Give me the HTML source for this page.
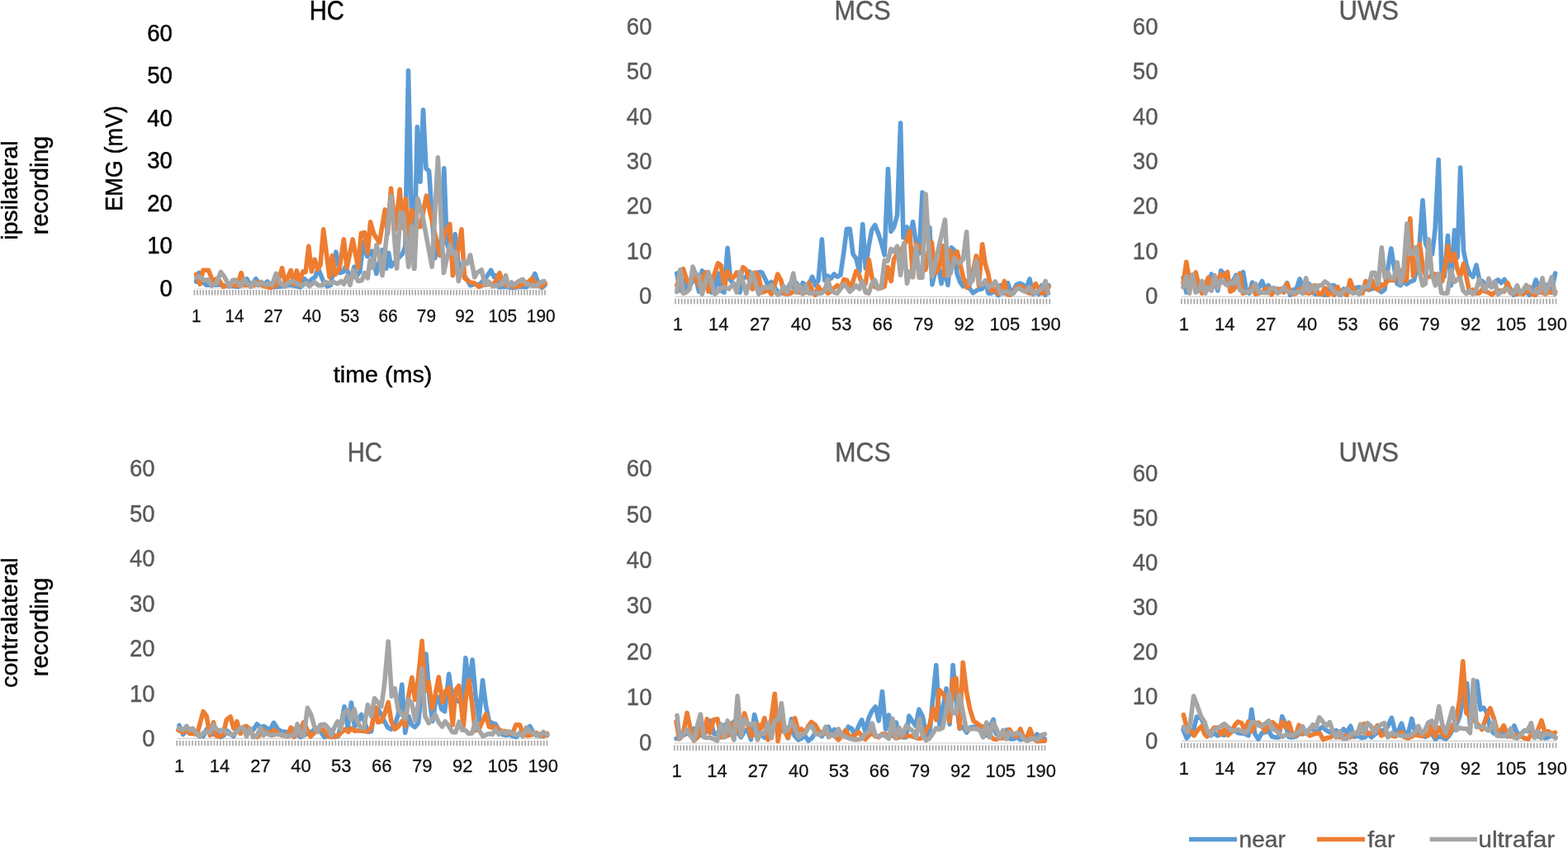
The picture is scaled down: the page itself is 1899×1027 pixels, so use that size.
<!DOCTYPE html>
<html lang="en">
<head>
<meta charset="utf-8">
<title>EMG recordings: HC, MCS, UWS</title>
<style>
html,body{margin:0;padding:0;background:#fff;}
body{width:1899px;height:1027px;overflow:hidden;}
svg{display:block;}
text{font-family:"Liberation Sans",sans-serif;font-size:100px;stroke-linejoin:round;}
</style>
</head>
<body>
<svg width="1899" height="1027" viewBox="0 0 1899 1027">
<rect width="1899" height="1027" fill="#ffffff"/>
<g id="plots">
<line x1="235.50" y1="349.50" x2="660.00" y2="349.50" stroke="#E0E0E0" stroke-width="1"/>
<path d="M235.50 351.00V357.60M239.07 351.00V357.60M242.63 351.00V357.60M246.20 351.00V357.60M249.77 351.00V357.60M253.34 351.00V357.60M256.90 351.00V357.60M260.47 351.00V357.60M264.04 351.00V357.60M267.61 351.00V357.60M271.17 351.00V357.60M274.74 351.00V357.60M278.31 351.00V357.60M281.87 351.00V357.60M285.44 351.00V357.60M289.01 351.00V357.60M292.58 351.00V357.60M296.14 351.00V357.60M299.71 351.00V357.60M303.28 351.00V357.60M306.84 351.00V357.60M310.41 351.00V357.60M313.98 351.00V357.60M317.55 351.00V357.60M321.11 351.00V357.60M324.68 351.00V357.60M328.25 351.00V357.60M331.82 351.00V357.60M335.38 351.00V357.60M338.95 351.00V357.60M342.52 351.00V357.60M346.08 351.00V357.60M349.65 351.00V357.60M353.22 351.00V357.60M356.79 351.00V357.60M360.35 351.00V357.60M363.92 351.00V357.60M367.49 351.00V357.60M371.05 351.00V357.60M374.62 351.00V357.60M378.19 351.00V357.60M381.76 351.00V357.60M385.32 351.00V357.60M388.89 351.00V357.60M392.46 351.00V357.60M396.03 351.00V357.60M399.59 351.00V357.60M403.16 351.00V357.60M406.73 351.00V357.60M410.29 351.00V357.60M413.86 351.00V357.60M417.43 351.00V357.60M421.00 351.00V357.60M424.56 351.00V357.60M428.13 351.00V357.60M431.70 351.00V357.60M435.26 351.00V357.60M438.83 351.00V357.60M442.40 351.00V357.60M445.97 351.00V357.60M449.53 351.00V357.60M453.10 351.00V357.60M456.67 351.00V357.60M460.24 351.00V357.60M463.80 351.00V357.60M467.37 351.00V357.60M470.94 351.00V357.60M474.50 351.00V357.60M478.07 351.00V357.60M481.64 351.00V357.60M485.21 351.00V357.60M488.77 351.00V357.60M492.34 351.00V357.60M495.91 351.00V357.60M499.47 351.00V357.60M503.04 351.00V357.60M506.61 351.00V357.60M510.18 351.00V357.60M513.74 351.00V357.60M517.31 351.00V357.60M520.88 351.00V357.60M524.45 351.00V357.60M528.01 351.00V357.60M531.58 351.00V357.60M535.15 351.00V357.60M538.71 351.00V357.60M542.28 351.00V357.60M545.85 351.00V357.60M549.42 351.00V357.60M552.98 351.00V357.60M556.55 351.00V357.60M560.12 351.00V357.60M563.68 351.00V357.60M567.25 351.00V357.60M570.82 351.00V357.60M574.39 351.00V357.60M577.95 351.00V357.60M581.52 351.00V357.60M585.09 351.00V357.60M588.66 351.00V357.60M592.22 351.00V357.60M595.79 351.00V357.60M599.36 351.00V357.60M602.92 351.00V357.60M606.49 351.00V357.60M610.06 351.00V357.60M613.63 351.00V357.60M617.19 351.00V357.60M620.76 351.00V357.60M624.33 351.00V357.60M627.89 351.00V357.60M631.46 351.00V357.60M635.03 351.00V357.60M638.60 351.00V357.60M642.16 351.00V357.60M645.73 351.00V357.60M649.30 351.00V357.60M652.87 351.00V357.60M656.43 351.00V357.60M660.00 351.00V357.60" stroke="#A8A8A8" stroke-width="1.7" fill="none"/>
<polyline points="237.6,341.0 241.1,330.5 245.8,342.0 250.0,345.2 255.3,345.2 261.6,345.2 266.3,344.7 272.1,346.2 279.5,346.2 287.9,347.3 294.2,345.2 299.0,337.8 303.7,346.2 310.0,337.8 315.3,345.2 319.5,345.2 323.7,341.0 331.1,347.8 337.4,347.3 344.8,346.2 351.1,345.2 357.4,346.2 363.8,347.8 369.0,337.8 373.2,342.6 377.4,338.4 381.7,335.7 385.3,325.2 392.2,342.0 396.4,346.8 400.6,345.2 406.9,305.2 411.7,330.5 415.4,329.4 418.5,323.1 424.8,337.8 429.1,323.1 430.5,335.7 435.8,329.4 440.0,293.6 444.8,310.4 450.5,304.1 455.8,331.5 463.2,302.6 467.9,325.2 470.6,306.2 473.7,322.6 480.6,314.7 487.4,307.3 490.8,298.9 494.5,85.6 497.9,241.8 501.5,325.2 505.3,153.7 509.0,220.2 512.5,133.0 516.0,203.9 519.6,207.1 523.2,260.8 526.8,312.6 530.4,293.6 534.0,298.9 537.8,203.9 541.1,293.6 544.7,306.2 548.2,312.6 551.1,283.6 554.8,316.8 558.4,325.2 562.1,333.6 566.3,339.9 569.5,345.7 574.8,344.1 580.0,345.2 587.4,337.8 594.6,327.3 598.5,335.7 600.6,333.6 604.2,347.8 612.7,347.3 620.0,348.4 630.6,347.3 636.9,347.8 641.1,345.2 647.8,331.5 652.7,345.2 656.4,348.4 660.1,345.2" stroke="#5B9BD5" stroke-width="5.6" fill="none" stroke-linejoin="round" stroke-linecap="round"/>
<polyline points="237.6,332.4 242.1,344.1 245.8,327.3 252.6,327.3 257.6,340.5 261.6,337.8 265.8,339.9 270.6,347.5 276.3,345.2 282.7,345.2 287.4,346.2 292.1,330.5 296.1,345.7 301.6,345.2 307.9,345.7 313.2,341.5 318.5,346.2 327.9,348.4 335.3,345.2 341.6,324.7 345.6,343.1 352.2,327.3 355.9,344.7 359.3,327.8 362.9,341.0 366.9,328.9 370.1,329.4 373.8,298.3 377.4,328.9 381.1,314.1 384.8,326.2 388.0,321.0 391.7,277.8 399.0,335.7 402.2,309.9 405.9,332.6 411.1,325.2 416.4,289.9 420.1,324.7 427.2,289.9 430.5,307.3 433.7,324.1 437.4,282.5 441.6,281.5 445.3,306.2 448.6,268.9 452.6,283.1 459.5,293.6 466.3,253.9 469.5,283.1 473.5,228.1 479.0,277.8 484.2,229.2 487.9,275.9 491.4,240.8 495.0,292.9 498.5,254.5 509.0,274.6 516.4,237.1 532.7,309.4 539.0,282.0 544.8,271.5 548.4,333.6 551.6,321.0 559.0,277.8 562.6,336.8 569.5,342.0 574.8,343.1 580.0,347.3 585.3,345.2 593.7,344.1 599.0,343.1 605.1,330.5 609.5,344.1 614.8,346.2 625.3,347.3 631.6,345.2 638.0,343.1 644.3,337.3 649.5,344.1 654.8,347.3 660.1,343.1" stroke="#ED7D31" stroke-width="5.6" fill="none" stroke-linejoin="round" stroke-linecap="round"/>
<polyline points="237.6,335.7 242.1,335.2 246.8,339.4 252.6,338.9 256.3,346.2 261.6,343.6 267.4,329.4 272.1,335.7 277.9,347.1 281.6,339.4 284.8,338.9 291.6,346.2 295.5,338.4 299.5,343.1 303.7,347.1 307.4,341.5 312.7,345.7 316.6,341.5 321.6,345.2 325.3,343.6 329.5,345.2 334.3,331.5 339.5,343.1 344.8,347.1 349.0,342.6 355.3,340.5 360.6,344.1 365.9,346.2 370.6,342.6 374.8,346.8 380.6,341.5 385.9,345.7 390.1,345.7 394.3,341.5 398.5,343.1 403.8,341.5 409.0,343.6 413.2,340.5 416.4,344.1 420.4,334.7 424.0,345.2 427.8,327.3 433.7,340.5 438.4,339.4 441.6,330.5 445.3,336.8 448.2,314.7 451.6,324.1 456.0,296.8 459.5,308.3 463.0,333.6 473.7,237.1 480.6,325.2 484.8,257.6 488.5,258.7 494.8,323.1 498.5,274.1 501.9,325.2 505.8,240.2 511.6,260.8 523.2,323.1 530.4,190.8 537.4,330.5 544.8,296.8 548.2,307.3 551.6,305.2 555.3,340.5 562.1,316.8 565.8,319.4 569.5,308.9 574.8,335.7 577.4,330.5 583.2,326.8 587.4,345.2 591.6,341.0 596.9,346.8 604.2,345.2 608.5,344.1 612.5,333.6 615.8,346.8 619.5,342.0 622.7,345.2 627.4,341.0 633.2,338.4 636.9,343.1 644.3,346.2 650.6,346.2 654.3,342.0 659.0,340.5" stroke="#A5A5A5" stroke-width="5.6" fill="none" stroke-linejoin="round" stroke-linecap="round"/>
<line x1="818.00" y1="359.30" x2="1271.20" y2="359.30" stroke="#D0D0D0" stroke-width="1.2"/>
<path d="M818.00 361.80V368.20M821.81 361.80V368.20M825.62 361.80V368.20M829.43 361.80V368.20M833.23 361.80V368.20M837.04 361.80V368.20M840.85 361.80V368.20M844.66 361.80V368.20M848.47 361.80V368.20M852.28 361.80V368.20M856.08 361.80V368.20M859.89 361.80V368.20M863.70 361.80V368.20M867.51 361.80V368.20M871.32 361.80V368.20M875.13 361.80V368.20M878.93 361.80V368.20M882.74 361.80V368.20M886.55 361.80V368.20M890.36 361.80V368.20M894.17 361.80V368.20M897.98 361.80V368.20M901.78 361.80V368.20M905.59 361.80V368.20M909.40 361.80V368.20M913.21 361.80V368.20M917.02 361.80V368.20M920.83 361.80V368.20M924.64 361.80V368.20M928.44 361.80V368.20M932.25 361.80V368.20M936.06 361.80V368.20M939.87 361.80V368.20M943.68 361.80V368.20M947.49 361.80V368.20M951.29 361.80V368.20M955.10 361.80V368.20M958.91 361.80V368.20M962.72 361.80V368.20M966.53 361.80V368.20M970.34 361.80V368.20M974.14 361.80V368.20M977.95 361.80V368.20M981.76 361.80V368.20M985.57 361.80V368.20M989.38 361.80V368.20M993.19 361.80V368.20M996.99 361.80V368.20M1000.80 361.80V368.20M1004.61 361.80V368.20M1008.42 361.80V368.20M1012.23 361.80V368.20M1016.04 361.80V368.20M1019.85 361.80V368.20M1023.65 361.80V368.20M1027.46 361.80V368.20M1031.27 361.80V368.20M1035.08 361.80V368.20M1038.89 361.80V368.20M1042.70 361.80V368.20M1046.50 361.80V368.20M1050.31 361.80V368.20M1054.12 361.80V368.20M1057.93 361.80V368.20M1061.74 361.80V368.20M1065.55 361.80V368.20M1069.35 361.80V368.20M1073.16 361.80V368.20M1076.97 361.80V368.20M1080.78 361.80V368.20M1084.59 361.80V368.20M1088.40 361.80V368.20M1092.21 361.80V368.20M1096.01 361.80V368.20M1099.82 361.80V368.20M1103.63 361.80V368.20M1107.44 361.80V368.20M1111.25 361.80V368.20M1115.06 361.80V368.20M1118.86 361.80V368.20M1122.67 361.80V368.20M1126.48 361.80V368.20M1130.29 361.80V368.20M1134.10 361.80V368.20M1137.91 361.80V368.20M1141.71 361.80V368.20M1145.52 361.80V368.20M1149.33 361.80V368.20M1153.14 361.80V368.20M1156.95 361.80V368.20M1160.76 361.80V368.20M1164.56 361.80V368.20M1168.37 361.80V368.20M1172.18 361.80V368.20M1175.99 361.80V368.20M1179.80 361.80V368.20M1183.61 361.80V368.20M1187.42 361.80V368.20M1191.22 361.80V368.20M1195.03 361.80V368.20M1198.84 361.80V368.20M1202.65 361.80V368.20M1206.46 361.80V368.20M1210.27 361.80V368.20M1214.07 361.80V368.20M1217.88 361.80V368.20M1221.69 361.80V368.20M1225.50 361.80V368.20M1229.31 361.80V368.20M1233.12 361.80V368.20M1236.92 361.80V368.20M1240.73 361.80V368.20M1244.54 361.80V368.20M1248.35 361.80V368.20M1252.16 361.80V368.20M1255.97 361.80V368.20M1259.77 361.80V368.20M1263.58 361.80V368.20M1267.39 361.80V368.20M1271.20 361.80V368.20" stroke="#A8A8A8" stroke-width="1.7" fill="none"/>
<polyline points="819.7,331.0 823.7,352.0 827.4,339.4 831.3,351.0 835.3,345.7 839.0,340.5 842.8,337.3 846.5,353.1 850.3,327.8 854.2,335.2 857.9,339.4 861.6,354.1 865.6,349.9 869.5,331.0 873.2,352.0 877.0,354.1 881.1,300.4 884.8,339.4 888.5,343.6 892.2,345.7 896.0,354.1 899.8,337.3 903.7,335.2 907.4,328.9 911.3,349.9 915.1,331.0 920.6,329.4 922.7,329.9 926.5,337.3 930.3,345.7 934.3,341.5 938.0,347.8 941.8,353.1 945.9,355.2 949.3,355.2 953.2,352.0 956.9,343.6 960.8,347.8 964.6,342.6 968.4,354.1 972.2,342.6 976.0,345.7 979.8,343.6 983.8,335.2 987.5,345.7 991.1,339.4 995.4,289.9 998.8,339.4 1002.6,334.1 1006.4,337.3 1010.2,332.0 1014.1,335.2 1017.9,333.1 1021.7,306.8 1025.5,277.3 1029.3,277.3 1033.1,307.8 1036.9,313.1 1040.8,328.9 1044.8,271.5 1048.3,324.7 1052.1,298.3 1055.9,278.3 1059.7,272.6 1063.6,282.5 1067.4,294.1 1071.2,308.9 1075.5,204.6 1079.0,280.4 1082.6,275.2 1086.6,260.4 1090.6,149.0 1094.0,287.8 1098.2,274.9 1101.6,287.8 1105.6,268.7 1109.2,293.1 1113.2,306.8 1117.1,233.0 1120.7,282.5 1125.9,275.6 1129.0,344.7 1132.1,331.0 1135.9,319.4 1140.1,343.6 1143.5,324.7 1148.0,345.2 1152.2,299.9 1155.7,303.1 1159.0,331.0 1162.7,341.5 1166.4,346.8 1170.1,340.5 1174.0,348.9 1178.5,354.7 1182.4,352.0 1185.3,350.5 1189.5,349.9 1193.2,339.9 1196.9,355.2 1200.6,355.2 1204.3,352.0 1209.0,357.8 1212.1,345.7 1215.8,355.2 1220.6,342.6 1224.3,355.2 1227.2,352.0 1231.1,344.7 1235.3,343.1 1239.0,344.7 1242.5,349.9 1247.1,337.8 1250.6,356.2 1254.3,354.1 1258.0,356.2 1261.6,345.7 1265.9,357.3 1270.1,345.7" stroke="#5B9BD5" stroke-width="5.6" fill="none" stroke-linejoin="round" stroke-linecap="round"/>
<polyline points="819.7,345.7 823.7,335.2 827.4,325.7 832.6,341.5 837.4,339.4 841.6,335.2 846.3,345.7 850.3,339.4 854.2,329.9 857.9,353.1 862.7,339.4 869.5,318.9 873.2,321.5 877.4,347.8 881.1,328.9 884.8,335.2 888.5,336.2 892.2,329.9 896.4,337.3 899.8,323.6 903.7,326.8 907.4,339.4 911.3,349.9 915.1,329.9 918.9,335.2 922.7,354.1 926.5,353.1 930.3,351.0 934.3,356.2 938.0,345.7 941.8,332.0 945.9,339.4 949.3,355.2 953.2,356.2 957.5,355.2 960.8,353.1 968.0,354.1 976.0,354.1 979.8,342.6 983.8,352.0 987.5,357.3 991.1,346.8 995.0,354.1 998.8,349.9 1002.6,355.2 1006.4,353.1 1010.2,348.9 1014.1,345.7 1017.9,349.9 1022.1,338.4 1025.8,339.4 1030.5,348.9 1036.9,328.4 1040.8,334.1 1044.5,345.7 1048.3,343.6 1052.3,314.6 1055.9,335.2 1059.7,347.8 1063.6,347.8 1067.4,348.9 1071.2,346.8 1075.2,323.6 1079.2,340.5 1082.6,314.1 1086.4,307.8 1090.3,303.6 1094.3,298.3 1098.5,289.9 1101.8,279.9 1105.6,335.7 1109.5,295.7 1113.2,298.3 1116.9,301.5 1120.9,326.8 1124.5,303.6 1128.3,293.1 1132.5,331.0 1135.9,326.8 1139.7,314.1 1142.0,297.8 1143.8,333.6 1147.3,317.3 1151.1,303.6 1154.9,320.4 1159.2,304.6 1162.5,318.3 1166.4,335.2 1171.1,348.4 1174.0,345.7 1177.8,331.0 1182.4,309.9 1185.4,345.7 1189.7,295.7 1193.2,319.4 1196.9,332.0 1200.6,352.0 1204.3,349.9 1208.3,355.2 1212.1,352.0 1216.4,340.5 1219.6,356.2 1223.4,357.3 1227.2,353.1 1231.1,347.8 1235.9,346.8 1238.7,347.8 1242.5,352.0 1246.3,355.2 1250.1,352.0 1254.3,343.6 1258.0,349.9 1261.6,355.2 1265.3,354.1 1270.1,347.3" stroke="#ED7D31" stroke-width="5.6" fill="none" stroke-linejoin="round" stroke-linecap="round"/>
<polyline points="819.7,353.6 823.7,326.8 827.4,355.2 831.1,354.1 835.3,349.9 839.0,323.1 842.6,332.0 846.3,333.1 850.3,356.2 857.9,329.4 865.6,356.2 869.5,353.1 873.2,348.9 877.4,348.4 882.7,349.9 888.5,343.6 892.2,354.1 896.4,329.4 903.7,355.2 911.3,330.4 918.9,356.2 922.7,349.9 926.5,347.3 930.3,348.9 934.3,345.7 938.0,353.1 942.2,356.8 945.9,353.1 949.3,346.8 953.2,354.1 956.9,347.8 960.8,331.0 964.6,354.1 968.4,345.7 972.2,356.2 976.0,345.7 979.8,355.2 983.8,355.2 987.5,354.1 991.1,355.2 995.0,355.2 998.8,352.0 1002.6,338.4 1006.4,352.0 1010.2,354.1 1014.1,355.2 1017.9,349.9 1021.7,344.7 1025.5,347.8 1029.3,353.1 1033.1,349.9 1036.9,345.7 1040.8,349.9 1044.5,340.5 1048.3,354.1 1052.1,355.2 1055.9,343.6 1059.7,339.4 1063.6,349.9 1067.4,347.8 1071.4,315.2 1075.0,316.2 1079.0,301.5 1082.6,304.6 1086.7,298.3 1090.6,333.1 1094.8,294.6 1098.5,343.1 1101.6,328.9 1105.4,335.2 1109.5,297.8 1113.2,336.2 1116.9,336.2 1121.1,235.1 1125.0,303.6 1129.0,335.2 1144.5,266.2 1148.0,334.1 1151.1,331.0 1155.9,312.6 1158.7,317.3 1162.5,318.3 1166.4,314.1 1170.6,280.9 1174.3,343.6 1178.0,339.4 1182.4,316.2 1185.8,343.6 1189.5,344.7 1193.2,340.5 1197.4,347.8 1201.1,345.7 1205.3,341.0 1208.5,347.8 1212.1,355.7 1215.8,353.1 1219.6,353.1 1223.4,355.2 1227.2,355.7 1231.1,349.9 1234.9,349.4 1238.7,352.0 1242.5,353.6 1246.9,347.8 1250.6,354.7 1254.0,355.2 1258.0,352.0 1261.6,349.9 1266.2,340.5 1269.6,355.2" stroke="#A5A5A5" stroke-width="5.6" fill="none" stroke-linejoin="round" stroke-linecap="round"/>
<line x1="1431.00" y1="359.30" x2="1884.50" y2="359.30" stroke="#D0D0D0" stroke-width="1.2"/>
<path d="M1431.00 361.80V368.20M1434.81 361.80V368.20M1438.62 361.80V368.20M1442.43 361.80V368.20M1446.24 361.80V368.20M1450.05 361.80V368.20M1453.87 361.80V368.20M1457.68 361.80V368.20M1461.49 361.80V368.20M1465.30 361.80V368.20M1469.11 361.80V368.20M1472.92 361.80V368.20M1476.73 361.80V368.20M1480.54 361.80V368.20M1484.35 361.80V368.20M1488.16 361.80V368.20M1491.97 361.80V368.20M1495.79 361.80V368.20M1499.60 361.80V368.20M1503.41 361.80V368.20M1507.22 361.80V368.20M1511.03 361.80V368.20M1514.84 361.80V368.20M1518.65 361.80V368.20M1522.46 361.80V368.20M1526.27 361.80V368.20M1530.08 361.80V368.20M1533.89 361.80V368.20M1537.71 361.80V368.20M1541.52 361.80V368.20M1545.33 361.80V368.20M1549.14 361.80V368.20M1552.95 361.80V368.20M1556.76 361.80V368.20M1560.57 361.80V368.20M1564.38 361.80V368.20M1568.19 361.80V368.20M1572.00 361.80V368.20M1575.82 361.80V368.20M1579.63 361.80V368.20M1583.44 361.80V368.20M1587.25 361.80V368.20M1591.06 361.80V368.20M1594.87 361.80V368.20M1598.68 361.80V368.20M1602.49 361.80V368.20M1606.30 361.80V368.20M1610.11 361.80V368.20M1613.92 361.80V368.20M1617.74 361.80V368.20M1621.55 361.80V368.20M1625.36 361.80V368.20M1629.17 361.80V368.20M1632.98 361.80V368.20M1636.79 361.80V368.20M1640.60 361.80V368.20M1644.41 361.80V368.20M1648.22 361.80V368.20M1652.03 361.80V368.20M1655.84 361.80V368.20M1659.66 361.80V368.20M1663.47 361.80V368.20M1667.28 361.80V368.20M1671.09 361.80V368.20M1674.90 361.80V368.20M1678.71 361.80V368.20M1682.52 361.80V368.20M1686.33 361.80V368.20M1690.14 361.80V368.20M1693.95 361.80V368.20M1697.76 361.80V368.20M1701.58 361.80V368.20M1705.39 361.80V368.20M1709.20 361.80V368.20M1713.01 361.80V368.20M1716.82 361.80V368.20M1720.63 361.80V368.20M1724.44 361.80V368.20M1728.25 361.80V368.20M1732.06 361.80V368.20M1735.87 361.80V368.20M1739.68 361.80V368.20M1743.50 361.80V368.20M1747.31 361.80V368.20M1751.12 361.80V368.20M1754.93 361.80V368.20M1758.74 361.80V368.20M1762.55 361.80V368.20M1766.36 361.80V368.20M1770.17 361.80V368.20M1773.98 361.80V368.20M1777.79 361.80V368.20M1781.61 361.80V368.20M1785.42 361.80V368.20M1789.23 361.80V368.20M1793.04 361.80V368.20M1796.85 361.80V368.20M1800.66 361.80V368.20M1804.47 361.80V368.20M1808.28 361.80V368.20M1812.09 361.80V368.20M1815.90 361.80V368.20M1819.71 361.80V368.20M1823.53 361.80V368.20M1827.34 361.80V368.20M1831.15 361.80V368.20M1834.96 361.80V368.20M1838.77 361.80V368.20M1842.58 361.80V368.20M1846.39 361.80V368.20M1850.20 361.80V368.20M1854.01 361.80V368.20M1857.82 361.80V368.20M1861.63 361.80V368.20M1865.45 361.80V368.20M1869.26 361.80V368.20M1873.07 361.80V368.20M1876.88 361.80V368.20M1880.69 361.80V368.20M1884.50 361.80V368.20" stroke="#A8A8A8" stroke-width="1.7" fill="none"/>
<polyline points="1433.0,336.2 1436.8,354.1 1440.5,345.7 1444.3,340.5 1448.1,339.4 1451.9,347.8 1455.8,345.7 1459.6,349.9 1463.4,341.5 1467.2,332.0 1471.0,339.4 1474.8,352.0 1478.7,327.8 1482.5,332.0 1486.2,339.4 1490.0,348.9 1493.8,339.4 1497.2,333.1 1501.5,337.3 1505.6,329.4 1509.3,352.0 1512.9,355.2 1516.7,342.0 1520.6,347.8 1524.4,348.9 1528.5,340.5 1532.0,349.9 1536.2,345.7 1539.6,353.1 1543.4,352.0 1547.2,349.9 1551.0,353.1 1554.8,349.9 1558.8,342.6 1562.5,357.3 1566.3,351.0 1570.1,349.9 1574.1,337.8 1577.7,347.8 1581.5,345.7 1585.3,343.6 1589.1,354.1 1592.9,356.2 1596.7,355.2 1600.5,356.2 1604.3,357.3 1608.2,351.0 1612.5,345.7 1615.8,345.7 1619.6,355.2 1623.5,357.3 1627.3,349.9 1631.1,354.1 1634.8,353.1 1638.6,351.0 1642.4,348.4 1646.3,347.8 1650.1,351.0 1653.9,349.9 1657.7,351.0 1661.5,349.9 1665.3,348.9 1669.2,351.0 1673.0,353.6 1676.8,351.0 1680.9,324.7 1684.8,301.0 1688.2,322.6 1692.0,343.6 1696.2,345.7 1699.6,340.5 1703.5,344.1 1707.3,341.5 1712.5,339.4 1716.0,324.7 1719.3,294.8 1723.0,242.5 1726.5,294.8 1730.4,303.6 1734.6,307.8 1738.1,277.3 1742.2,193.5 1745.8,326.8 1749.2,335.2 1753.5,285.2 1757.2,345.7 1761.5,278.9 1765.1,312.0 1768.6,203.0 1772.5,303.6 1776.2,321.5 1779.9,331.5 1783.8,335.2 1788.0,321.0 1791.7,339.4 1795.4,340.5 1799.0,345.7 1802.5,344.7 1806.4,347.8 1810.1,341.5 1814.3,338.9 1818.0,342.6 1822.0,338.4 1825.4,345.7 1829.6,349.9 1833.3,357.3 1836.8,354.1 1840.7,355.2 1844.4,354.1 1848.2,352.0 1852.2,357.3 1855.9,352.0 1860.1,338.9 1863.5,347.8 1867.3,345.7 1871.1,345.7 1874.9,344.7 1878.7,354.1 1883.5,331.0" stroke="#5B9BD5" stroke-width="5.6" fill="none" stroke-linejoin="round" stroke-linecap="round"/>
<polyline points="1433.0,343.6 1436.8,317.3 1440.5,339.4 1444.3,345.7 1448.2,329.9 1451.9,345.7 1455.8,355.2 1459.6,345.7 1463.4,336.2 1467.2,347.8 1471.0,345.7 1474.8,339.4 1478.7,332.0 1482.5,335.2 1486.6,329.4 1490.0,353.1 1493.8,351.0 1497.7,345.7 1501.5,331.0 1505.3,355.2 1509.1,354.1 1512.9,353.1 1516.7,347.8 1520.6,356.2 1524.4,355.2 1528.2,354.1 1532.0,351.0 1535.7,348.9 1539.8,356.8 1543.4,353.1 1547.2,351.0 1551.0,349.9 1554.8,354.1 1558.8,343.6 1562.5,353.1 1566.3,356.2 1570.1,355.2 1573.9,349.9 1577.7,355.2 1581.5,354.1 1585.3,355.2 1589.1,354.1 1592.9,345.7 1596.7,356.2 1600.5,356.2 1604.6,348.9 1608.2,357.3 1612.0,354.1 1615.8,357.3 1619.8,347.3 1623.5,354.1 1627.3,355.2 1631.1,357.3 1635.1,339.4 1638.6,348.9 1642.4,354.1 1646.3,355.2 1650.1,355.2 1654.0,340.5 1657.7,349.9 1661.5,339.4 1665.3,348.9 1669.2,351.0 1673.0,344.7 1676.8,345.7 1680.6,339.4 1684.3,339.4 1688.2,339.4 1692.0,335.2 1696.7,327.8 1699.6,339.4 1703.5,339.4 1707.9,264.6 1711.4,334.1 1715.1,316.2 1719.3,295.7 1723.5,324.7 1727.2,335.2 1730.9,335.2 1734.1,334.1 1737.8,332.0 1741.5,337.3 1746.7,340.5 1749.9,324.7 1753.5,297.8 1757.2,316.2 1761.5,307.3 1764.6,324.7 1768.3,335.2 1772.5,319.4 1775.9,335.2 1779.7,354.1 1783.6,351.0 1787.5,355.2 1791.2,355.2 1795.0,351.0 1798.7,353.1 1802.5,354.1 1807.0,356.8 1810.1,354.1 1814.0,352.0 1817.8,352.0 1821.6,353.1 1825.9,342.6 1829.4,352.0 1833.0,355.2 1836.8,356.2 1840.7,355.2 1844.4,356.2 1848.2,354.1 1852.8,347.8 1855.9,356.2 1859.7,357.3 1863.5,348.9 1867.3,354.1 1871.7,356.2 1874.9,354.1 1878.7,353.1 1883.8,353.6" stroke="#ED7D31" stroke-width="5.6" fill="none" stroke-linejoin="round" stroke-linecap="round"/>
<polyline points="1433.0,347.8 1436.8,335.2 1440.5,355.2 1444.3,332.6 1448.1,354.1 1451.9,352.0 1455.8,340.5 1459.6,355.2 1463.4,347.8 1467.2,352.0 1471.0,333.6 1474.8,348.9 1478.7,339.4 1482.5,342.6 1486.2,345.7 1490.0,342.6 1493.8,342.6 1498.2,335.2 1501.5,351.0 1505.3,353.1 1509.1,353.6 1512.9,353.1 1516.7,352.0 1520.6,343.6 1524.4,354.1 1528.2,354.1 1532.0,354.7 1535.7,354.7 1539.6,348.9 1543.4,348.9 1547.2,355.2 1551.0,353.1 1555.1,347.8 1558.6,352.6 1562.5,354.1 1566.3,354.7 1570.1,354.1 1573.9,353.1 1577.7,355.2 1581.7,336.8 1585.3,353.1 1589.1,345.7 1592.9,352.0 1596.7,345.7 1600.5,345.7 1604.6,341.0 1608.2,343.6 1612.0,347.8 1615.8,353.1 1619.6,355.2 1623.5,356.8 1627.3,353.1 1631.4,349.4 1634.8,353.1 1638.6,355.2 1642.4,354.1 1646.3,356.2 1650.1,347.8 1653.9,347.3 1657.7,346.8 1661.5,330.4 1665.3,330.4 1669.2,344.7 1673.3,299.9 1677.2,336.2 1680.9,329.9 1684.3,337.3 1688.2,337.3 1692.2,317.8 1696.2,343.6 1699.6,331.0 1704.0,270.9 1707.3,307.8 1711.1,306.8 1715.1,299.4 1718.7,326.8 1723.0,345.7 1726.3,343.6 1730.4,289.9 1734.0,331.0 1738.3,345.7 1742.0,331.5 1745.7,354.7 1749.2,355.2 1753.0,355.2 1757.2,327.3 1761.5,341.5 1764.6,338.4 1768.3,336.8 1772.0,352.0 1775.9,355.7 1779.9,352.0 1783.6,356.2 1787.5,352.0 1791.5,338.4 1795.0,345.7 1799.0,351.0 1803.0,337.3 1806.6,347.8 1810.4,341.5 1814.0,356.2 1817.8,354.1 1821.6,351.0 1825.9,349.4 1829.4,355.2 1833.3,355.2 1837.5,345.7 1841.0,355.2 1844.5,352.0 1848.5,345.2 1852.2,349.9 1855.9,352.6 1859.7,353.1 1863.8,354.7 1868.0,336.8 1871.7,355.2 1875.1,347.8 1879.3,335.7 1883.1,356.2" stroke="#A5A5A5" stroke-width="5.6" fill="none" stroke-linejoin="round" stroke-linecap="round"/>
<line x1="214.25" y1="894.30" x2="662.50" y2="894.30" stroke="#D0D0D0" stroke-width="1.2"/>
<path d="M214.25 897.00V903.20M218.02 897.00V903.20M221.78 897.00V903.20M225.55 897.00V903.20M229.32 897.00V903.20M233.08 897.00V903.20M236.85 897.00V903.20M240.62 897.00V903.20M244.38 897.00V903.20M248.15 897.00V903.20M251.92 897.00V903.20M255.68 897.00V903.20M259.45 897.00V903.20M263.22 897.00V903.20M266.99 897.00V903.20M270.75 897.00V903.20M274.52 897.00V903.20M278.29 897.00V903.20M282.05 897.00V903.20M285.82 897.00V903.20M289.59 897.00V903.20M293.35 897.00V903.20M297.12 897.00V903.20M300.89 897.00V903.20M304.65 897.00V903.20M308.42 897.00V903.20M312.19 897.00V903.20M315.95 897.00V903.20M319.72 897.00V903.20M323.49 897.00V903.20M327.25 897.00V903.20M331.02 897.00V903.20M334.79 897.00V903.20M338.55 897.00V903.20M342.32 897.00V903.20M346.09 897.00V903.20M349.86 897.00V903.20M353.62 897.00V903.20M357.39 897.00V903.20M361.16 897.00V903.20M364.92 897.00V903.20M368.69 897.00V903.20M372.46 897.00V903.20M376.22 897.00V903.20M379.99 897.00V903.20M383.76 897.00V903.20M387.52 897.00V903.20M391.29 897.00V903.20M395.06 897.00V903.20M398.82 897.00V903.20M402.59 897.00V903.20M406.36 897.00V903.20M410.12 897.00V903.20M413.89 897.00V903.20M417.66 897.00V903.20M421.42 897.00V903.20M425.19 897.00V903.20M428.96 897.00V903.20M432.72 897.00V903.20M436.49 897.00V903.20M440.26 897.00V903.20M444.03 897.00V903.20M447.79 897.00V903.20M451.56 897.00V903.20M455.33 897.00V903.20M459.09 897.00V903.20M462.86 897.00V903.20M466.63 897.00V903.20M470.39 897.00V903.20M474.16 897.00V903.20M477.93 897.00V903.20M481.69 897.00V903.20M485.46 897.00V903.20M489.23 897.00V903.20M492.99 897.00V903.20M496.76 897.00V903.20M500.53 897.00V903.20M504.29 897.00V903.20M508.06 897.00V903.20M511.83 897.00V903.20M515.59 897.00V903.20M519.36 897.00V903.20M523.13 897.00V903.20M526.89 897.00V903.20M530.66 897.00V903.20M534.43 897.00V903.20M538.20 897.00V903.20M541.96 897.00V903.20M545.73 897.00V903.20M549.50 897.00V903.20M553.26 897.00V903.20M557.03 897.00V903.20M560.80 897.00V903.20M564.56 897.00V903.20M568.33 897.00V903.20M572.10 897.00V903.20M575.86 897.00V903.20M579.63 897.00V903.20M583.40 897.00V903.20M587.16 897.00V903.20M590.93 897.00V903.20M594.70 897.00V903.20M598.46 897.00V903.20M602.23 897.00V903.20M606.00 897.00V903.20M609.76 897.00V903.20M613.53 897.00V903.20M617.30 897.00V903.20M621.07 897.00V903.20M624.83 897.00V903.20M628.60 897.00V903.20M632.37 897.00V903.20M636.13 897.00V903.20M639.90 897.00V903.20M643.67 897.00V903.20M647.43 897.00V903.20M651.20 897.00V903.20M654.97 897.00V903.20M658.73 897.00V903.20M662.50 897.00V903.20" stroke="#A8A8A8" stroke-width="1.7" fill="none"/>
<polyline points="217.0,878.5 221.7,889.5 226.0,884.2 231.2,885.3 238.6,889.5 242.8,890.6 246.2,891.6 250.2,883.2 254.4,888.5 258.6,889.5 262.8,887.4 267.0,892.7 271.2,890.6 275.5,885.3 279.7,889.5 282.8,891.6 287.0,884.2 291.2,884.2 298.6,884.2 302.8,883.2 306.5,884.2 311.3,876.9 315.5,881.1 319.2,879.5 322.9,881.6 327.1,884.2 331.5,875.3 336.5,883.2 340.8,885.8 346.0,886.4 352.3,887.4 356.0,883.2 360.2,889.5 363.9,892.7 368.1,890.6 372.4,888.5 376.6,886.4 381.8,883.2 386.0,881.1 389.2,887.4 392.9,892.7 397.0,891.6 401.2,884.2 405.4,892.7 409.6,891.6 413.9,873.7 417.0,855.8 421.2,881.1 425.4,851.1 429.6,880.0 433.9,873.7 437.6,865.3 441.2,873.7 445.4,886.4 449.7,885.8 453.9,856.9 457.6,859.0 461.8,865.3 465.5,873.7 469.7,881.1 473.9,883.2 478.1,877.9 482.3,865.3 486.8,829.0 490.7,887.4 494.9,867.4 498.6,877.9 502.6,880.6 506.5,875.8 510.2,842.1 512.9,810.5 516.0,792.1 520.0,844.2 523.7,873.7 527.4,850.5 531.1,844.2 534.8,859.0 538.6,861.6 543.7,816.3 547.4,844.2 551.6,846.3 555.3,849.5 560.2,850.5 563.9,796.8 568.1,831.6 572.1,799.0 576.0,842.1 580.0,872.7 584.5,823.7 588.5,854.8 592.2,872.7 595.9,875.8 600.1,876.9 604.3,884.2 608.5,889.5 612.7,890.6 616.9,889.5 621.1,891.6 625.3,892.7 629.5,887.4 633.2,890.6 637.5,884.2 641.7,879.5 645.4,886.4 649.6,890.6 653.8,889.5 658.0,888.5 662.7,890.6" stroke="#5B9BD5" stroke-width="5.6" fill="none" stroke-linejoin="round" stroke-linecap="round"/>
<polyline points="215.9,884.2 221.7,886.9 226.0,883.2 229.6,888.5 234.4,888.5 238.6,889.5 246.2,861.6 250.2,867.4 254.4,890.6 258.6,874.8 262.3,891.6 266.0,892.1 270.2,889.5 274.4,871.6 279.1,867.9 282.8,882.1 287.0,873.7 291.2,888.5 295.5,880.0 298.6,879.5 302.8,884.2 306.5,890.6 311.3,892.7 315.5,889.5 319.2,884.2 322.9,888.5 327.1,887.4 331.8,884.2 336.5,887.4 340.8,890.6 348.1,891.6 352.3,881.1 356.0,892.7 360.2,887.4 363.9,884.2 367.6,874.8 371.3,882.1 376.0,892.1 380.8,887.4 386.0,884.2 391.3,883.2 397.0,891.6 401.2,892.7 405.4,892.1 409.6,890.6 413.9,886.4 418.1,883.2 421.8,886.4 425.4,882.1 429.6,885.3 433.9,884.8 438.1,885.3 442.3,885.8 446.0,885.3 449.7,881.1 455.4,856.9 457.6,874.8 461.8,873.7 465.5,865.3 470.2,850.5 473.9,873.7 478.1,883.2 482.3,880.0 486.5,873.7 490.7,879.0 494.9,842.1 498.9,820.5 502.6,847.4 506.5,821.1 511.1,776.3 515.0,836.9 519.2,826.3 523.4,857.9 527.1,842.1 531.3,820.0 536.0,850.5 539.7,836.9 543.7,832.6 548.3,877.9 551.8,835.8 555.8,830.5 561.3,879.5 564.5,842.1 568.1,823.7 571.8,852.7 575.3,884.8 580.0,883.2 584.3,873.7 588.5,864.8 592.2,880.0 595.9,881.1 600.1,880.0 604.3,884.2 608.5,885.3 612.7,885.8 616.9,888.5 621.1,887.4 624.8,877.9 629.5,877.9 633.2,887.4 637.5,890.6 641.1,890.6 645.4,889.5 649.6,887.4 653.8,890.6 658.0,891.6 662.7,888.5" stroke="#ED7D31" stroke-width="5.6" fill="none" stroke-linejoin="round" stroke-linecap="round"/>
<polyline points="216.5,882.1 221.7,884.2 226.0,879.5 229.6,884.2 233.3,882.1 237.5,887.4 241.8,892.1 246.2,887.4 250.2,886.4 254.4,886.9 258.6,877.9 262.8,884.2 267.0,884.2 271.2,884.8 276.5,888.5 281.8,890.0 287.0,886.4 290.2,882.1 294.4,881.1 298.6,891.6 302.8,882.1 306.5,892.7 310.7,891.6 315.5,881.6 319.2,890.6 321.8,887.4 325.5,889.5 329.2,890.6 333.4,889.5 337.6,889.5 342.9,890.0 348.1,892.1 353.4,890.0 356.6,890.6 360.2,876.9 363.9,890.6 368.1,890.6 372.4,857.4 376.6,865.3 380.8,880.0 384.5,886.4 388.1,877.9 393.4,877.4 397.0,881.1 401.0,890.6 404.5,882.1 408.8,873.7 412.8,883.2 416.5,863.2 421.2,860.0 425.2,871.6 429.1,859.0 432.8,873.7 436.5,881.1 440.7,882.1 445.4,853.7 449.7,867.4 453.6,845.8 457.6,850.5 461.8,855.8 465.5,829.5 470.2,776.8 474.4,843.2 478.1,833.7 482.3,860.0 486.5,864.2 490.7,870.6 494.9,847.4 498.6,851.6 502.9,872.7 506.5,852.7 510.9,809.5 514.8,867.4 519.2,875.8 522.9,871.6 527.1,865.3 531.3,874.8 535.5,880.0 539.2,873.7 543.4,879.0 547.6,886.4 551.8,886.9 556.0,874.2 559.7,884.2 563.4,884.2 567.6,888.5 571.8,887.9 575.8,873.7 580.0,884.2 584.8,891.6 589.5,889.5 593.2,888.5 596.4,889.5 600.1,883.2 604.3,889.5 608.5,885.8 612.7,887.9 616.9,885.8 621.1,888.5 625.3,890.0 629.0,888.5 633.2,891.6 637.5,881.1 641.1,885.3 645.4,887.9 649.6,889.0 653.8,891.6 658.0,886.4 662.7,890.0" stroke="#A5A5A5" stroke-width="5.6" fill="none" stroke-linejoin="round" stroke-linecap="round"/>
<line x1="816.75" y1="900.00" x2="1265.50" y2="900.00" stroke="#D0D0D0" stroke-width="1.2"/>
<path d="M816.75 902.50V909.00M820.52 902.50V909.00M824.29 902.50V909.00M828.06 902.50V909.00M831.83 902.50V909.00M835.61 902.50V909.00M839.38 902.50V909.00M843.15 902.50V909.00M846.92 902.50V909.00M850.69 902.50V909.00M854.46 902.50V909.00M858.23 902.50V909.00M862.00 902.50V909.00M865.77 902.50V909.00M869.54 902.50V909.00M873.32 902.50V909.00M877.09 902.50V909.00M880.86 902.50V909.00M884.63 902.50V909.00M888.40 902.50V909.00M892.17 902.50V909.00M895.94 902.50V909.00M899.71 902.50V909.00M903.48 902.50V909.00M907.25 902.50V909.00M911.03 902.50V909.00M914.80 902.50V909.00M918.57 902.50V909.00M922.34 902.50V909.00M926.11 902.50V909.00M929.88 902.50V909.00M933.65 902.50V909.00M937.42 902.50V909.00M941.19 902.50V909.00M944.96 902.50V909.00M948.74 902.50V909.00M952.51 902.50V909.00M956.28 902.50V909.00M960.05 902.50V909.00M963.82 902.50V909.00M967.59 902.50V909.00M971.36 902.50V909.00M975.13 902.50V909.00M978.90 902.50V909.00M982.67 902.50V909.00M986.45 902.50V909.00M990.22 902.50V909.00M993.99 902.50V909.00M997.76 902.50V909.00M1001.53 902.50V909.00M1005.30 902.50V909.00M1009.07 902.50V909.00M1012.84 902.50V909.00M1016.61 902.50V909.00M1020.38 902.50V909.00M1024.16 902.50V909.00M1027.93 902.50V909.00M1031.70 902.50V909.00M1035.47 902.50V909.00M1039.24 902.50V909.00M1043.01 902.50V909.00M1046.78 902.50V909.00M1050.55 902.50V909.00M1054.32 902.50V909.00M1058.09 902.50V909.00M1061.87 902.50V909.00M1065.64 902.50V909.00M1069.41 902.50V909.00M1073.18 902.50V909.00M1076.95 902.50V909.00M1080.72 902.50V909.00M1084.49 902.50V909.00M1088.26 902.50V909.00M1092.03 902.50V909.00M1095.80 902.50V909.00M1099.58 902.50V909.00M1103.35 902.50V909.00M1107.12 902.50V909.00M1110.89 902.50V909.00M1114.66 902.50V909.00M1118.43 902.50V909.00M1122.20 902.50V909.00M1125.97 902.50V909.00M1129.74 902.50V909.00M1133.51 902.50V909.00M1137.29 902.50V909.00M1141.06 902.50V909.00M1144.83 902.50V909.00M1148.60 902.50V909.00M1152.37 902.50V909.00M1156.14 902.50V909.00M1159.91 902.50V909.00M1163.68 902.50V909.00M1167.45 902.50V909.00M1171.22 902.50V909.00M1175.00 902.50V909.00M1178.77 902.50V909.00M1182.54 902.50V909.00M1186.31 902.50V909.00M1190.08 902.50V909.00M1193.85 902.50V909.00M1197.62 902.50V909.00M1201.39 902.50V909.00M1205.16 902.50V909.00M1208.93 902.50V909.00M1212.71 902.50V909.00M1216.48 902.50V909.00M1220.25 902.50V909.00M1224.02 902.50V909.00M1227.79 902.50V909.00M1231.56 902.50V909.00M1235.33 902.50V909.00M1239.10 902.50V909.00M1242.87 902.50V909.00M1246.64 902.50V909.00M1250.42 902.50V909.00M1254.19 902.50V909.00M1257.96 902.50V909.00M1261.73 902.50V909.00M1265.50 902.50V909.00" stroke="#A8A8A8" stroke-width="1.7" fill="none"/>
<polyline points="819.0,894.5 822.6,894.0 826.9,890.8 831.1,888.7 835.8,887.6 840.5,882.4 844.8,886.6 849.0,890.8 852.6,888.7 856.3,885.5 860.5,872.9 864.8,888.7 868.5,889.7 873.2,880.2 877.4,878.1 881.1,886.6 884.8,880.2 889.0,873.9 893.2,886.6 897.4,892.9 901.6,885.5 905.3,883.4 909.5,895.5 913.7,865.5 918.0,883.4 921.6,888.7 925.9,893.4 930.1,886.6 934.3,885.5 938.0,869.7 942.2,880.2 946.4,885.5 950.6,880.2 954.3,894.0 958.5,870.8 962.2,890.8 966.9,896.0 971.1,894.0 974.8,890.8 979.0,897.1 983.2,894.0 988.0,886.6 991.7,888.7 995.4,891.8 1000.0,883.4 1003.2,880.2 1006.9,887.6 1010.5,883.4 1015.3,887.6 1019.5,890.8 1023.7,891.8 1027.4,880.2 1031.6,882.4 1035.3,890.8 1039.5,880.2 1043.7,871.8 1047.9,885.5 1052.1,869.7 1055.8,861.3 1060.3,856.0 1064.2,872.9 1068.5,837.6 1072.7,883.4 1076.4,866.0 1080.6,890.8 1085.3,875.0 1089.0,890.8 1093.2,892.9 1097.4,892.9 1100.9,867.1 1105.3,873.9 1109.0,879.2 1113.0,859.2 1117.4,867.6 1121.6,890.8 1125.9,888.7 1129.5,848.7 1133.8,805.5 1138.0,878.1 1141.7,859.2 1146.1,833.9 1150.1,877.1 1154.1,805.5 1158.0,848.7 1162.2,882.4 1166.4,880.2 1170.6,887.1 1174.8,881.3 1179.0,880.2 1183.2,881.3 1187.5,883.4 1190.6,888.7 1194.8,890.8 1199.0,880.2 1203.0,871.3 1206.4,888.7 1210.6,890.8 1214.8,888.7 1219.0,883.9 1223.2,895.0 1227.5,895.0 1231.7,892.9 1235.9,896.0 1240.1,894.0 1244.3,896.0 1248.5,895.0 1252.7,894.0 1255.9,889.2 1260.1,894.0 1265.4,895.0" stroke="#5B9BD5" stroke-width="5.6" fill="none" stroke-linejoin="round" stroke-linecap="round"/>
<polyline points="819.0,873.9 822.6,895.0 826.9,890.8 832.1,863.4 836.3,883.4 840.5,897.1 844.8,892.9 848.4,880.2 852.6,890.8 856.3,870.8 860.0,887.6 864.2,871.8 869.0,870.8 873.2,892.9 877.4,892.4 881.6,890.8 885.3,876.0 889.0,888.7 893.2,880.2 897.4,890.8 901.6,863.9 905.3,876.0 910.0,891.8 913.7,888.7 917.4,877.1 921.6,882.4 925.9,869.7 930.1,896.0 934.3,869.7 938.3,840.2 942.2,897.6 946.4,869.7 950.6,886.6 954.3,893.4 958.5,882.4 962.7,869.7 966.9,885.5 970.6,882.9 974.8,887.6 979.0,879.2 982.7,874.5 987.5,878.1 991.7,885.5 995.9,888.7 1000.0,887.6 1003.2,890.8 1007.4,889.2 1011.6,891.8 1015.3,896.0 1020.0,890.8 1024.0,884.5 1027.9,890.8 1031.6,892.9 1035.8,889.7 1039.5,886.6 1043.7,890.8 1047.9,895.5 1052.1,890.8 1055.8,887.6 1060.0,891.8 1064.2,892.9 1068.5,888.7 1072.7,889.2 1076.4,890.8 1081.1,890.8 1085.3,894.0 1089.5,892.9 1093.7,891.3 1098.0,891.3 1102.2,891.3 1106.4,892.4 1110.6,894.0 1114.8,894.5 1119.0,890.8 1121.6,883.4 1125.9,878.1 1129.8,858.1 1133.8,871.8 1137.4,835.5 1141.7,840.2 1145.9,845.5 1150.1,873.9 1153.8,823.4 1158.0,821.3 1162.2,881.8 1166.2,802.3 1170.6,838.1 1174.8,859.2 1179.0,872.9 1183.2,876.0 1187.5,879.2 1190.6,880.2 1194.8,885.5 1199.0,890.8 1203.2,895.0 1206.9,895.5 1210.6,894.0 1214.8,894.0 1219.0,890.8 1222.7,883.4 1227.5,890.8 1231.7,891.8 1235.7,882.9 1240.1,894.0 1243.8,892.9 1247.5,882.9 1251.7,894.0 1255.9,897.6 1261.2,897.1 1265.4,897.1" stroke="#ED7D31" stroke-width="5.6" fill="none" stroke-linejoin="round" stroke-linecap="round"/>
<polyline points="820.0,866.6 823.2,894.5 826.9,889.7 832.1,883.4 835.8,890.8 840.5,896.6 844.2,880.2 848.4,865.0 852.6,892.9 856.3,893.4 860.5,893.4 864.2,895.0 868.5,897.1 873.2,877.1 877.4,892.9 881.1,872.9 884.8,886.6 889.0,896.0 893.2,842.9 897.4,890.8 901.6,870.8 905.3,876.0 909.5,878.1 913.7,876.0 917.4,896.0 921.6,887.6 925.9,888.7 930.1,875.5 934.3,894.0 938.0,872.9 942.2,871.8 946.4,851.8 950.6,886.6 954.3,883.4 958.5,874.5 962.7,881.3 966.9,892.9 971.1,889.7 975.4,887.6 979.0,881.3 983.2,879.2 988.0,888.7 992.2,889.7 995.9,888.7 1000.0,880.2 1003.7,892.9 1007.4,889.7 1011.1,891.8 1015.3,882.9 1019.5,890.8 1023.7,892.4 1027.9,894.0 1031.6,895.0 1035.8,896.0 1040.0,895.5 1044.2,894.0 1047.9,888.7 1052.1,886.6 1056.3,876.0 1060.0,890.8 1064.2,891.8 1068.5,889.7 1072.7,891.8 1076.4,894.5 1080.9,870.2 1084.8,894.0 1089.0,881.3 1092.7,890.8 1097.4,878.7 1101.6,882.4 1105.8,885.5 1109.5,892.9 1113.5,870.8 1117.4,890.8 1121.6,896.6 1125.9,894.0 1129.5,888.7 1133.8,881.8 1138.0,883.4 1141.7,881.3 1145.9,861.3 1149.5,839.7 1153.8,863.4 1158.0,863.9 1162.2,841.3 1166.4,863.4 1170.6,884.5 1174.8,882.9 1179.0,882.4 1183.2,882.9 1186.9,884.5 1190.6,892.9 1194.8,875.0 1198.5,892.9 1202.7,875.5 1206.9,882.4 1210.6,894.0 1214.8,884.5 1219.0,895.0 1222.7,886.6 1226.9,889.7 1231.7,887.6 1235.9,889.2 1240.1,895.5 1244.3,897.1 1248.5,895.0 1252.7,894.0 1256.9,896.0 1261.2,890.3 1265.4,889.2" stroke="#A5A5A5" stroke-width="5.6" fill="none" stroke-linejoin="round" stroke-linecap="round"/>
<line x1="1431.00" y1="897.30" x2="1884.50" y2="897.30" stroke="#D0D0D0" stroke-width="1.2"/>
<path d="M1431.00 899.80V906.00M1434.81 899.80V906.00M1438.62 899.80V906.00M1442.43 899.80V906.00M1446.24 899.80V906.00M1450.05 899.80V906.00M1453.87 899.80V906.00M1457.68 899.80V906.00M1461.49 899.80V906.00M1465.30 899.80V906.00M1469.11 899.80V906.00M1472.92 899.80V906.00M1476.73 899.80V906.00M1480.54 899.80V906.00M1484.35 899.80V906.00M1488.16 899.80V906.00M1491.97 899.80V906.00M1495.79 899.80V906.00M1499.60 899.80V906.00M1503.41 899.80V906.00M1507.22 899.80V906.00M1511.03 899.80V906.00M1514.84 899.80V906.00M1518.65 899.80V906.00M1522.46 899.80V906.00M1526.27 899.80V906.00M1530.08 899.80V906.00M1533.89 899.80V906.00M1537.71 899.80V906.00M1541.52 899.80V906.00M1545.33 899.80V906.00M1549.14 899.80V906.00M1552.95 899.80V906.00M1556.76 899.80V906.00M1560.57 899.80V906.00M1564.38 899.80V906.00M1568.19 899.80V906.00M1572.00 899.80V906.00M1575.82 899.80V906.00M1579.63 899.80V906.00M1583.44 899.80V906.00M1587.25 899.80V906.00M1591.06 899.80V906.00M1594.87 899.80V906.00M1598.68 899.80V906.00M1602.49 899.80V906.00M1606.30 899.80V906.00M1610.11 899.80V906.00M1613.92 899.80V906.00M1617.74 899.80V906.00M1621.55 899.80V906.00M1625.36 899.80V906.00M1629.17 899.80V906.00M1632.98 899.80V906.00M1636.79 899.80V906.00M1640.60 899.80V906.00M1644.41 899.80V906.00M1648.22 899.80V906.00M1652.03 899.80V906.00M1655.84 899.80V906.00M1659.66 899.80V906.00M1663.47 899.80V906.00M1667.28 899.80V906.00M1671.09 899.80V906.00M1674.90 899.80V906.00M1678.71 899.80V906.00M1682.52 899.80V906.00M1686.33 899.80V906.00M1690.14 899.80V906.00M1693.95 899.80V906.00M1697.76 899.80V906.00M1701.58 899.80V906.00M1705.39 899.80V906.00M1709.20 899.80V906.00M1713.01 899.80V906.00M1716.82 899.80V906.00M1720.63 899.80V906.00M1724.44 899.80V906.00M1728.25 899.80V906.00M1732.06 899.80V906.00M1735.87 899.80V906.00M1739.68 899.80V906.00M1743.50 899.80V906.00M1747.31 899.80V906.00M1751.12 899.80V906.00M1754.93 899.80V906.00M1758.74 899.80V906.00M1762.55 899.80V906.00M1766.36 899.80V906.00M1770.17 899.80V906.00M1773.98 899.80V906.00M1777.79 899.80V906.00M1781.61 899.80V906.00M1785.42 899.80V906.00M1789.23 899.80V906.00M1793.04 899.80V906.00M1796.85 899.80V906.00M1800.66 899.80V906.00M1804.47 899.80V906.00M1808.28 899.80V906.00M1812.09 899.80V906.00M1815.90 899.80V906.00M1819.71 899.80V906.00M1823.53 899.80V906.00M1827.34 899.80V906.00M1831.15 899.80V906.00M1834.96 899.80V906.00M1838.77 899.80V906.00M1842.58 899.80V906.00M1846.39 899.80V906.00M1850.20 899.80V906.00M1854.01 899.80V906.00M1857.82 899.80V906.00M1861.63 899.80V906.00M1865.45 899.80V906.00M1869.26 899.80V906.00M1873.07 899.80V906.00M1876.88 899.80V906.00M1880.69 899.80V906.00M1884.50 899.80V906.00" stroke="#A8A8A8" stroke-width="1.7" fill="none"/>
<polyline points="1433.0,883.5 1437.2,894.0 1441.4,888.8 1445.6,883.5 1449.3,868.2 1454.5,869.8 1458.8,878.2 1462.4,888.8 1466.1,890.9 1470.3,887.7 1474.5,890.9 1478.8,888.8 1482.5,890.4 1487.2,884.6 1491.4,882.5 1495.6,885.6 1499.8,887.7 1504.0,888.3 1508.2,888.8 1511.9,890.9 1515.8,859.3 1519.8,888.8 1524.0,895.1 1528.3,887.7 1532.5,886.7 1536.2,884.6 1540.4,892.0 1544.6,893.0 1548.8,893.0 1552.8,867.7 1557.2,878.2 1560.9,892.5 1565.1,893.0 1569.3,892.0 1573.5,888.8 1577.8,888.8 1582.0,887.7 1586.2,882.5 1590.4,883.5 1594.6,884.6 1598.3,882.5 1602.0,880.4 1606.2,884.6 1610.4,886.7 1614.5,886.7 1618.2,884.6 1622.4,888.8 1627.2,883.0 1631.4,886.7 1635.6,879.3 1639.8,892.5 1644.5,890.9 1648.8,893.5 1653.0,893.0 1657.2,888.8 1660.9,893.0 1665.6,888.8 1669.8,886.7 1674.0,884.6 1678.2,883.5 1681.4,878.2 1685.4,869.3 1689.8,886.7 1693.5,885.6 1697.4,876.1 1701.4,888.8 1705.6,887.7 1709.8,870.4 1714.0,887.7 1718.3,887.7 1722.5,890.9 1726.2,892.5 1729.8,888.8 1734.1,888.8 1738.3,895.1 1743.0,892.0 1746.7,893.0 1750.9,895.1 1755.1,890.9 1759.3,883.5 1763.5,878.2 1767.8,867.7 1772.0,846.7 1776.7,827.7 1780.4,878.2 1784.6,846.7 1788.8,825.1 1793.0,859.3 1796.7,857.2 1800.4,862.5 1804.3,880.4 1808.5,887.7 1812.7,888.8 1817.0,888.8 1821.2,887.7 1825.4,892.0 1829.6,888.8 1833.8,878.8 1838.0,888.8 1842.2,888.8 1846.5,884.6 1850.7,885.6 1854.9,883.5 1859.1,888.8 1862.8,892.0 1867.0,888.8 1871.2,894.0 1874.9,893.0 1879.1,890.9 1883.8,893.0" stroke="#5B9BD5" stroke-width="5.6" fill="none" stroke-linejoin="round" stroke-linecap="round"/>
<polyline points="1433.3,865.6 1437.7,882.5 1441.9,884.6 1446.1,890.9 1450.3,884.6 1455.6,879.3 1458.8,888.8 1461.9,892.0 1466.1,886.7 1470.3,881.4 1474.5,881.4 1478.8,889.8 1482.5,883.5 1487.2,890.4 1491.4,886.7 1495.6,878.2 1499.3,874.0 1503.5,875.6 1507.7,883.5 1511.9,874.0 1516.2,885.6 1519.8,878.2 1524.0,875.1 1527.7,878.2 1532.0,885.6 1535.6,878.2 1540.9,874.6 1545.1,878.2 1548.8,884.6 1553.0,874.0 1557.2,881.4 1560.9,875.1 1565.1,888.8 1569.3,890.9 1573.0,878.2 1577.2,888.8 1582.0,885.6 1586.2,890.9 1590.4,889.3 1594.6,888.3 1598.3,887.7 1602.5,895.6 1607.2,893.5 1611.5,893.0 1615.0,889.8 1618.2,888.8 1622.4,893.0 1626.6,890.9 1630.8,890.9 1635.1,893.0 1639.3,888.8 1643.5,886.7 1647.7,886.7 1651.9,876.7 1656.1,888.8 1660.3,887.7 1664.5,883.5 1668.2,878.8 1673.0,890.9 1677.2,888.8 1681.4,890.9 1685.6,890.9 1689.8,892.0 1694.0,888.8 1697.7,886.7 1701.4,893.0 1705.6,894.0 1709.8,892.0 1714.0,889.8 1718.3,890.9 1722.5,891.4 1726.2,888.8 1729.8,890.9 1733.5,879.3 1738.3,892.0 1743.0,881.4 1747.2,888.8 1750.9,892.5 1755.1,888.8 1759.3,878.2 1763.5,873.0 1767.8,846.7 1771.8,800.9 1775.9,863.5 1780.4,867.7 1784.6,871.9 1788.8,876.1 1794.8,883.5 1800.4,867.7 1804.8,857.7 1809.1,869.8 1813.3,885.6 1817.5,884.6 1821.2,878.8 1825.4,888.8 1829.6,892.0 1833.8,890.9 1838.0,890.4 1842.2,892.0 1846.5,894.0 1850.7,895.1 1854.9,888.8 1859.1,893.0 1862.8,883.5 1867.0,872.5 1871.2,887.7 1874.9,885.6 1879.1,888.8 1883.3,887.2" stroke="#ED7D31" stroke-width="5.6" fill="none" stroke-linejoin="round" stroke-linecap="round"/>
<polyline points="1433.5,880.4 1437.7,886.7 1441.4,877.2 1445.6,843.0 1449.8,854.0 1454.5,867.7 1458.8,874.0 1462.4,885.6 1466.1,889.8 1470.3,883.5 1474.5,882.5 1478.8,879.3 1482.8,876.7 1487.2,880.4 1491.4,884.6 1495.6,885.1 1499.8,883.5 1504.0,885.6 1508.2,887.7 1512.5,883.5 1515.6,875.1 1519.8,874.6 1523.5,878.2 1527.7,879.8 1532.5,876.1 1536.5,873.0 1540.4,882.5 1544.6,884.0 1548.8,887.7 1553.0,892.5 1557.2,889.8 1562.0,890.4 1566.2,890.9 1569.9,887.7 1573.5,887.2 1577.5,879.8 1582.0,888.8 1586.2,883.5 1589.9,877.7 1593.6,881.4 1597.8,868.8 1602.0,874.0 1606.2,879.3 1610.4,874.6 1614.5,886.7 1618.2,893.0 1622.4,885.6 1626.6,894.6 1630.8,894.6 1635.1,889.8 1639.8,887.7 1644.0,888.8 1647.7,877.2 1651.9,888.8 1656.1,875.6 1660.3,879.3 1664.5,887.7 1668.8,880.4 1673.0,877.2 1676.7,875.6 1680.9,893.0 1685.6,887.7 1689.8,889.8 1694.0,890.4 1698.2,891.4 1702.5,891.4 1706.7,890.9 1710.9,888.8 1714.0,886.7 1717.7,879.3 1722.0,888.8 1725.6,884.6 1729.8,875.1 1734.1,873.0 1738.3,881.4 1742.7,855.6 1746.9,878.2 1750.9,887.7 1755.1,873.0 1759.3,857.7 1763.5,884.6 1767.8,881.4 1772.0,882.5 1776.2,882.5 1780.4,887.7 1784.4,823.5 1788.3,880.4 1793.0,879.8 1797.2,880.4 1801.5,884.6 1804.3,884.6 1809.1,873.5 1812.7,890.9 1817.0,891.4 1821.2,891.4 1825.4,890.9 1829.6,882.5 1833.3,893.0 1837.5,894.0 1841.7,889.8 1845.9,885.6 1850.7,883.5 1854.3,875.6 1858.6,893.5 1862.8,885.6 1866.5,894.0 1870.7,888.8 1874.9,888.8 1879.1,889.8 1883.8,894.0" stroke="#A5A5A5" stroke-width="5.6" fill="none" stroke-linejoin="round" stroke-linecap="round"/>
<line x1="1440.0" y1="1016.5" x2="1498.0" y2="1016.5" stroke="#5B9BD5" stroke-width="5.4"/>
<line x1="1595.0" y1="1016.5" x2="1653.0" y2="1016.5" stroke="#ED7D31" stroke-width="5.4"/>
<line x1="1731.5" y1="1016.5" x2="1789.0" y2="1016.5" stroke="#A5A5A5" stroke-width="5.4"/>
</g>
<g id="labels">
<text transform="matrix(0.2750,0,0,0.2958,178.14,49.50)" fill="#000000" stroke="#000000" stroke-width="1.58">60</text>
<text transform="matrix(0.2750,0,0,0.2958,178.14,101.05)" fill="#000000" stroke="#000000" stroke-width="1.58">50</text>
<text transform="matrix(0.2750,0,0,0.2958,178.14,152.60)" fill="#000000" stroke="#000000" stroke-width="1.58">40</text>
<text transform="matrix(0.2750,0,0,0.2958,178.14,204.15)" fill="#000000" stroke="#000000" stroke-width="1.58">30</text>
<text transform="matrix(0.2750,0,0,0.2958,178.14,255.70)" fill="#000000" stroke="#000000" stroke-width="1.58">20</text>
<text transform="matrix(0.2750,0,0,0.2958,178.14,307.25)" fill="#000000" stroke="#000000" stroke-width="1.58">10</text>
<text transform="matrix(0.2750,0,0,0.2958,193.40,358.80)" fill="#000000" stroke="#000000" stroke-width="1.58">0</text>
<text transform="matrix(0.2079,0,0,0.2188,232.10,389.90)" fill="#111111" stroke="#111111" stroke-width="1.17">1</text>
<text transform="matrix(0.2079,0,0,0.2188,272.55,389.90)" fill="#111111" stroke="#111111" stroke-width="1.17">14</text>
<text transform="matrix(0.2079,0,0,0.2157,319.39,389.90)" fill="#111111" stroke="#111111" stroke-width="1.18">27</text>
<text transform="matrix(0.2079,0,0,0.2127,365.92,389.69)" fill="#111111" stroke="#111111" stroke-width="1.19">40</text>
<text transform="matrix(0.2079,0,0,0.2127,412.14,389.69)" fill="#111111" stroke="#111111" stroke-width="1.19">53</text>
<text transform="matrix(0.2079,0,0,0.2127,458.41,389.69)" fill="#111111" stroke="#111111" stroke-width="1.19">66</text>
<text transform="matrix(0.2079,0,0,0.2127,504.84,389.69)" fill="#111111" stroke="#111111" stroke-width="1.19">79</text>
<text transform="matrix(0.2079,0,0,0.2127,551.31,389.69)" fill="#111111" stroke="#111111" stroke-width="1.19">92</text>
<text transform="matrix(0.2079,0,0,0.2127,591.50,389.69)" fill="#111111" stroke="#111111" stroke-width="1.19">105</text>
<text transform="matrix(0.2079,0,0,0.2127,637.83,389.69)" fill="#111111" stroke="#111111" stroke-width="1.19">190</text>
<text transform="matrix(0.2750,0,0,0.2958,758.84,42.10)" fill="#595959" stroke="#595959" stroke-width="1.40">60</text>
<text transform="matrix(0.2750,0,0,0.2958,758.84,96.43)" fill="#595959" stroke="#595959" stroke-width="1.40">50</text>
<text transform="matrix(0.2750,0,0,0.2958,758.84,150.76)" fill="#595959" stroke="#595959" stroke-width="1.40">40</text>
<text transform="matrix(0.2750,0,0,0.2958,758.84,205.09)" fill="#595959" stroke="#595959" stroke-width="1.40">30</text>
<text transform="matrix(0.2750,0,0,0.2958,758.84,259.42)" fill="#595959" stroke="#595959" stroke-width="1.40">20</text>
<text transform="matrix(0.2750,0,0,0.2958,758.84,313.75)" fill="#595959" stroke="#595959" stroke-width="1.40">10</text>
<text transform="matrix(0.2750,0,0,0.2958,774.10,368.08)" fill="#595959" stroke="#595959" stroke-width="1.40">0</text>
<text transform="matrix(0.2200,0,0,0.2290,814.77,400.20)" fill="#111111" stroke="#111111" stroke-width="1.11">1</text>
<text transform="matrix(0.2200,0,0,0.2290,858.01,400.20)" fill="#111111" stroke="#111111" stroke-width="1.11">14</text>
<text transform="matrix(0.2200,0,0,0.2257,908.01,400.20)" fill="#111111" stroke="#111111" stroke-width="1.12">27</text>
<text transform="matrix(0.2200,0,0,0.2225,957.69,399.98)" fill="#111111" stroke="#111111" stroke-width="1.13">40</text>
<text transform="matrix(0.2200,0,0,0.2225,1007.03,399.98)" fill="#111111" stroke="#111111" stroke-width="1.13">53</text>
<text transform="matrix(0.2200,0,0,0.2225,1056.43,399.98)" fill="#111111" stroke="#111111" stroke-width="1.13">66</text>
<text transform="matrix(0.2200,0,0,0.2225,1105.99,399.98)" fill="#111111" stroke="#111111" stroke-width="1.13">79</text>
<text transform="matrix(0.2200,0,0,0.2225,1155.61,399.98)" fill="#111111" stroke="#111111" stroke-width="1.13">92</text>
<text transform="matrix(0.2200,0,0,0.2225,1198.58,399.98)" fill="#111111" stroke="#111111" stroke-width="1.13">105</text>
<text transform="matrix(0.2200,0,0,0.2225,1248.03,399.98)" fill="#111111" stroke="#111111" stroke-width="1.13">190</text>
<text transform="matrix(0.2750,0,0,0.2958,1371.84,42.10)" fill="#595959" stroke="#595959" stroke-width="1.40">60</text>
<text transform="matrix(0.2750,0,0,0.2958,1371.84,96.43)" fill="#595959" stroke="#595959" stroke-width="1.40">50</text>
<text transform="matrix(0.2750,0,0,0.2958,1371.84,150.76)" fill="#595959" stroke="#595959" stroke-width="1.40">40</text>
<text transform="matrix(0.2750,0,0,0.2958,1371.84,205.09)" fill="#595959" stroke="#595959" stroke-width="1.40">30</text>
<text transform="matrix(0.2750,0,0,0.2958,1371.84,259.42)" fill="#595959" stroke="#595959" stroke-width="1.40">20</text>
<text transform="matrix(0.2750,0,0,0.2958,1371.84,313.75)" fill="#595959" stroke="#595959" stroke-width="1.40">10</text>
<text transform="matrix(0.2750,0,0,0.2958,1387.10,368.08)" fill="#595959" stroke="#595959" stroke-width="1.40">0</text>
<text transform="matrix(0.2200,0,0,0.2290,1427.77,400.20)" fill="#111111" stroke="#111111" stroke-width="1.11">1</text>
<text transform="matrix(0.2200,0,0,0.2290,1471.04,400.20)" fill="#111111" stroke="#111111" stroke-width="1.11">14</text>
<text transform="matrix(0.2200,0,0,0.2257,1521.08,400.20)" fill="#111111" stroke="#111111" stroke-width="1.12">27</text>
<text transform="matrix(0.2200,0,0,0.2225,1570.79,399.98)" fill="#111111" stroke="#111111" stroke-width="1.13">40</text>
<text transform="matrix(0.2200,0,0,0.2225,1620.16,399.98)" fill="#111111" stroke="#111111" stroke-width="1.13">53</text>
<text transform="matrix(0.2200,0,0,0.2225,1669.60,399.98)" fill="#111111" stroke="#111111" stroke-width="1.13">66</text>
<text transform="matrix(0.2200,0,0,0.2225,1719.19,399.98)" fill="#111111" stroke="#111111" stroke-width="1.13">79</text>
<text transform="matrix(0.2200,0,0,0.2225,1768.84,399.98)" fill="#111111" stroke="#111111" stroke-width="1.13">92</text>
<text transform="matrix(0.2200,0,0,0.2225,1811.84,399.98)" fill="#111111" stroke="#111111" stroke-width="1.13">105</text>
<text transform="matrix(0.2200,0,0,0.2225,1861.33,399.98)" fill="#111111" stroke="#111111" stroke-width="1.13">190</text>
<text transform="matrix(0.2750,0,0,0.2958,157.04,577.30)" fill="#595959" stroke="#595959" stroke-width="1.40">60</text>
<text transform="matrix(0.2750,0,0,0.2958,157.04,631.78)" fill="#595959" stroke="#595959" stroke-width="1.40">50</text>
<text transform="matrix(0.2750,0,0,0.2958,157.04,686.26)" fill="#595959" stroke="#595959" stroke-width="1.40">40</text>
<text transform="matrix(0.2750,0,0,0.2958,157.04,740.74)" fill="#595959" stroke="#595959" stroke-width="1.40">30</text>
<text transform="matrix(0.2750,0,0,0.2958,157.04,795.22)" fill="#595959" stroke="#595959" stroke-width="1.40">20</text>
<text transform="matrix(0.2750,0,0,0.2958,157.04,849.70)" fill="#595959" stroke="#595959" stroke-width="1.40">10</text>
<text transform="matrix(0.2750,0,0,0.2958,172.30,904.18)" fill="#595959" stroke="#595959" stroke-width="1.40">0</text>
<text transform="matrix(0.2200,0,0,0.2290,211.00,935.20)" fill="#111111" stroke="#111111" stroke-width="1.11">1</text>
<text transform="matrix(0.2200,0,0,0.2290,253.70,935.20)" fill="#111111" stroke="#111111" stroke-width="1.11">14</text>
<text transform="matrix(0.2200,0,0,0.2257,303.16,935.20)" fill="#111111" stroke="#111111" stroke-width="1.12">27</text>
<text transform="matrix(0.2200,0,0,0.2225,352.29,934.98)" fill="#111111" stroke="#111111" stroke-width="1.13">40</text>
<text transform="matrix(0.2200,0,0,0.2225,401.10,934.98)" fill="#111111" stroke="#111111" stroke-width="1.13">53</text>
<text transform="matrix(0.2200,0,0,0.2225,449.96,934.98)" fill="#111111" stroke="#111111" stroke-width="1.13">66</text>
<text transform="matrix(0.2200,0,0,0.2225,498.98,934.98)" fill="#111111" stroke="#111111" stroke-width="1.13">79</text>
<text transform="matrix(0.2200,0,0,0.2225,548.06,934.98)" fill="#111111" stroke="#111111" stroke-width="1.13">92</text>
<text transform="matrix(0.2200,0,0,0.2225,590.48,934.98)" fill="#111111" stroke="#111111" stroke-width="1.13">105</text>
<text transform="matrix(0.2200,0,0,0.2225,639.39,934.98)" fill="#111111" stroke="#111111" stroke-width="1.13">190</text>
<text transform="matrix(0.2750,0,0,0.2958,758.84,577.20)" fill="#595959" stroke="#595959" stroke-width="1.40">60</text>
<text transform="matrix(0.2750,0,0,0.2958,758.84,632.57)" fill="#595959" stroke="#595959" stroke-width="1.40">50</text>
<text transform="matrix(0.2750,0,0,0.2958,758.84,687.94)" fill="#595959" stroke="#595959" stroke-width="1.40">40</text>
<text transform="matrix(0.2750,0,0,0.2958,758.84,743.31)" fill="#595959" stroke="#595959" stroke-width="1.40">30</text>
<text transform="matrix(0.2750,0,0,0.2958,758.84,798.68)" fill="#595959" stroke="#595959" stroke-width="1.40">20</text>
<text transform="matrix(0.2750,0,0,0.2958,758.84,854.05)" fill="#595959" stroke="#595959" stroke-width="1.40">10</text>
<text transform="matrix(0.2750,0,0,0.2958,774.10,909.42)" fill="#595959" stroke="#595959" stroke-width="1.40">0</text>
<text transform="matrix(0.2200,0,0,0.2290,813.50,941.20)" fill="#111111" stroke="#111111" stroke-width="1.11">1</text>
<text transform="matrix(0.2200,0,0,0.2290,856.25,941.20)" fill="#111111" stroke="#111111" stroke-width="1.11">14</text>
<text transform="matrix(0.2200,0,0,0.2257,905.77,941.20)" fill="#111111" stroke="#111111" stroke-width="1.12">27</text>
<text transform="matrix(0.2200,0,0,0.2225,954.96,940.98)" fill="#111111" stroke="#111111" stroke-width="1.13">40</text>
<text transform="matrix(0.2200,0,0,0.2225,1003.82,940.98)" fill="#111111" stroke="#111111" stroke-width="1.13">53</text>
<text transform="matrix(0.2200,0,0,0.2225,1052.73,940.98)" fill="#111111" stroke="#111111" stroke-width="1.13">66</text>
<text transform="matrix(0.2200,0,0,0.2225,1101.81,940.98)" fill="#111111" stroke="#111111" stroke-width="1.13">79</text>
<text transform="matrix(0.2200,0,0,0.2225,1150.94,940.98)" fill="#111111" stroke="#111111" stroke-width="1.13">92</text>
<text transform="matrix(0.2200,0,0,0.2225,1193.42,940.98)" fill="#111111" stroke="#111111" stroke-width="1.13">105</text>
<text transform="matrix(0.2200,0,0,0.2225,1242.39,940.98)" fill="#111111" stroke="#111111" stroke-width="1.13">190</text>
<text transform="matrix(0.2750,0,0,0.2958,1371.64,582.90)" fill="#595959" stroke="#595959" stroke-width="1.40">60</text>
<text transform="matrix(0.2750,0,0,0.2958,1371.64,636.85)" fill="#595959" stroke="#595959" stroke-width="1.40">50</text>
<text transform="matrix(0.2750,0,0,0.2958,1371.64,690.80)" fill="#595959" stroke="#595959" stroke-width="1.40">40</text>
<text transform="matrix(0.2750,0,0,0.2958,1371.64,744.75)" fill="#595959" stroke="#595959" stroke-width="1.40">30</text>
<text transform="matrix(0.2750,0,0,0.2958,1371.64,798.70)" fill="#595959" stroke="#595959" stroke-width="1.40">20</text>
<text transform="matrix(0.2750,0,0,0.2958,1371.64,852.65)" fill="#595959" stroke="#595959" stroke-width="1.40">10</text>
<text transform="matrix(0.2750,0,0,0.2958,1386.90,906.60)" fill="#595959" stroke="#595959" stroke-width="1.40">0</text>
<text transform="matrix(0.2200,0,0,0.2290,1427.77,938.20)" fill="#111111" stroke="#111111" stroke-width="1.11">1</text>
<text transform="matrix(0.2200,0,0,0.2290,1471.04,938.20)" fill="#111111" stroke="#111111" stroke-width="1.11">14</text>
<text transform="matrix(0.2200,0,0,0.2257,1521.08,938.20)" fill="#111111" stroke="#111111" stroke-width="1.12">27</text>
<text transform="matrix(0.2200,0,0,0.2225,1570.79,937.98)" fill="#111111" stroke="#111111" stroke-width="1.13">40</text>
<text transform="matrix(0.2200,0,0,0.2225,1620.16,937.98)" fill="#111111" stroke="#111111" stroke-width="1.13">53</text>
<text transform="matrix(0.2200,0,0,0.2225,1669.60,937.98)" fill="#111111" stroke="#111111" stroke-width="1.13">66</text>
<text transform="matrix(0.2200,0,0,0.2225,1719.19,937.98)" fill="#111111" stroke="#111111" stroke-width="1.13">79</text>
<text transform="matrix(0.2200,0,0,0.2225,1768.84,937.98)" fill="#111111" stroke="#111111" stroke-width="1.13">92</text>
<text transform="matrix(0.2200,0,0,0.2225,1811.84,937.98)" fill="#111111" stroke="#111111" stroke-width="1.13">105</text>
<text transform="matrix(0.2200,0,0,0.2225,1861.33,937.98)" fill="#111111" stroke="#111111" stroke-width="1.13">190</text>
<text transform="matrix(0.2921,0,0,0.3282,374.66,23.77)" fill="#000000" stroke="#000000" stroke-width="1.45">HC</text>
<text transform="matrix(0.3064,0,0,0.3338,1010.55,23.97)" fill="#595959" stroke="#595959" stroke-width="1.25">MCS</text>
<text transform="matrix(0.3109,0,0,0.3338,1621.47,23.97)" fill="#595959" stroke="#595959" stroke-width="1.24">UWS</text>
<text transform="matrix(0.2928,0,0,0.3366,420.66,558.86)" fill="#595959" stroke="#595959" stroke-width="1.27">HC</text>
<text transform="matrix(0.3036,0,0,0.3394,1011.27,558.86)" fill="#595959" stroke="#595959" stroke-width="1.24">MCS</text>
<text transform="matrix(0.3109,0,0,0.3366,1621.47,558.86)" fill="#595959" stroke="#595959" stroke-width="1.24">UWS</text>
<text transform="matrix(0.2873,0,0,0.2824,403.77,463.07)" fill="#000000" stroke="#000000" stroke-width="1.58">time (ms)</text>
<text transform="matrix(0,-0.2712,0.2909,0,147.69,255.87)" fill="#000000" stroke="#000000" stroke-width="1.60">EMG (mV)</text>
<text transform="matrix(0,-0.2853,0.2727,0,20.97,290.85)" fill="#000000" stroke="#000000" stroke-width="1.61">ipsilateral</text>
<text transform="matrix(0,-0.2866,0.3027,0,57.94,284.16)" fill="#000000" stroke="#000000" stroke-width="1.53">recording</text>
<text transform="matrix(0,-0.2867,0.2776,0,21.32,832.95)" fill="#000000" stroke="#000000" stroke-width="1.59">contralateral</text>
<text transform="matrix(0,-0.2871,0.2984,0,57.63,819.17)" fill="#000000" stroke="#000000" stroke-width="1.54">recording</text>
<text transform="matrix(0.2812,0,0,0.2727,1500.57,1025.53)" fill="#595959" stroke="#595959" stroke-width="1.44">near</text>
<text transform="matrix(0.2855,0,0,0.2830,1656.17,1025.52)" fill="#595959" stroke="#595959" stroke-width="1.41">far</text>
<text transform="matrix(0.2990,0,0,0.2830,1790.26,1025.52)" fill="#595959" stroke="#595959" stroke-width="1.37">ultrafar</text>
</g>
</svg>
</body>
</html>
